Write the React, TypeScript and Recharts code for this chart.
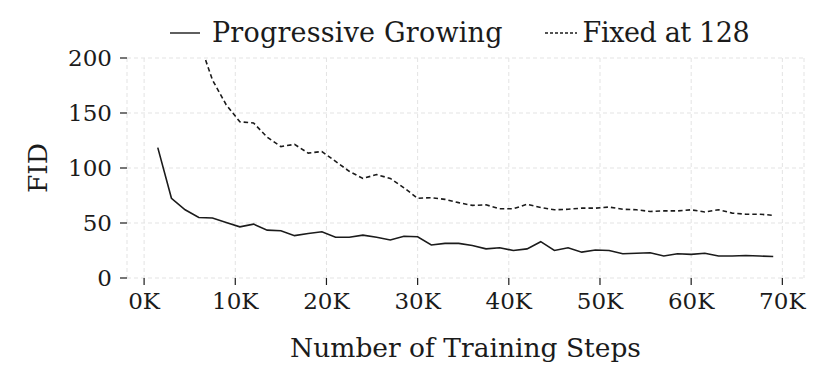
import React from "react";
import { CartesianGrid, Line, LineChart, XAxis, YAxis } from "recharts";

// training steps (every 1.5K)
const steps = [
  1500, 3000, 4500, 6000, 7500, 9000, 10500, 12000, 13500, 15000, 16500, 18000, 19500, 21000, 22500, 24000,
  25500, 27000, 28500, 30000, 31500, 33000, 34500, 36000, 37500, 39000, 40500, 42000, 43500, 45000, 46500,
  48000, 49500, 51000, 52500, 54000, 55500, 57000, 58500, 60000, 61500, 63000, 64500, 66000, 67500, 69000,
];

const progressive = [
  118.5, 72.5, 62, 55, 54.5, 50.5, 46.5, 49, 43.5, 43, 38.5, 40.5, 42, 37, 37, 39, 37, 34.5, 38, 37.5, 30,
  31.5, 31.5, 29.5, 26.5, 27.5, 25, 26.5, 33, 25, 27.5, 23.5, 25.5, 25, 22, 22.5, 23, 20, 22, 21.5, 22.5,
  20, 20, 20.5, 20, 19.5,
];

const fixed128 = [
  290, 258, 233, 216, 180, 157.5, 142, 141, 128, 119.5, 121.5, 113.5, 115, 106, 97, 90.5, 94, 90.5, 82,
  72.5, 73, 71.5, 68.5, 66, 66.5, 63, 63, 67, 64, 62, 62.5, 63.5, 63.5, 64.5, 62.5, 62, 60.5, 61, 61, 62,
  60, 62, 59, 58, 58, 57,
];

const xTicks = [0, 10000, 20000, 30000, 40000, 50000, 60000, 70000];
const yTicks = [0, 50, 100, 150, 200];

const data = steps.map((step, i) => ({ step, progressive: progressive[i], fixed: fixed128[i] }));

const FONT = "'DejaVu Serif', serif";
const INK = "#1b1b1b";

export default function App() {
  return (
    <div style={{ position: "absolute", left: 0, top: 0, width: 830, height: 385, background: "#fff", fontFamily: FONT }}>
      <div
        style={{
          position: "absolute",
          top: 17,
          left: 170,
          display: "flex",
          alignItems: "center",
          fontSize: 27,
          color: INK,
          lineHeight: "32px",
          whiteSpace: "nowrap",
        }}
      >
        <svg width={30} height={10} style={{ marginRight: 12 }}>
          <line x1={0} y1={5} x2={30} y2={5} stroke={INK} strokeWidth={1.4} />
        </svg>
        <span style={{ letterSpacing: 0.2 }}>Progressive Growing</span>
        <svg width={32} height={10} style={{ marginLeft: 42, marginRight: 6 }}>
          <line x1={0} y1={5} x2={32} y2={5} stroke={INK} strokeWidth={1.4} strokeDasharray="3 2" />
        </svg>
        <span style={{ letterSpacing: -0.4 }}>Fixed at 128</span>
      </div>
      <LineChart width={830} height={385} data={data} margin={{ top: 58, right: 26, bottom: 27, left: 47 }}>
        <CartesianGrid stroke="#e3e3e3" strokeDasharray="4 3" strokeWidth={1} />
        <XAxis
          dataKey="step"
          type="number"
          domain={[-1875, 72375]}
          ticks={xTicks}
          tickFormatter={(v: number) => `${v / 1000}K`}
          axisLine={false}
          tickLine={{ stroke: INK, strokeWidth: 1.2 }}
          tickSize={7}
          tickMargin={8}
          height={80}
          tick={{ fill: INK, fontSize: 23, fontFamily: FONT }}
          label={{ value: "Number of Training Steps", position: "center", dy: 30, fill: INK, fontSize: 26.5, fontFamily: FONT }}
        />
        <YAxis
          type="number"
          domain={[0, 200]}
          allowDataOverflow
          ticks={yTicks}
          axisLine={false}
          tickLine={{ stroke: INK, strokeWidth: 1.2 }}
          tickSize={7}
          tickMargin={8}
          width={80}
          tick={{ fill: INK, fontSize: 23, fontFamily: FONT }}
          label={{ value: "FID", angle: -90, position: "center", dx: -49, fill: INK, fontSize: 26.5, fontFamily: FONT }}
        />
        <Line
          dataKey="fixed"
          stroke={INK}
          strokeWidth={1.6}
          strokeDasharray="4.5 3"
          dot={false}
          isAnimationActive={false}
        />
        <Line dataKey="progressive" stroke={INK} strokeWidth={1.6} dot={false} isAnimationActive={false} />
      </LineChart>
    </div>
  );
}
